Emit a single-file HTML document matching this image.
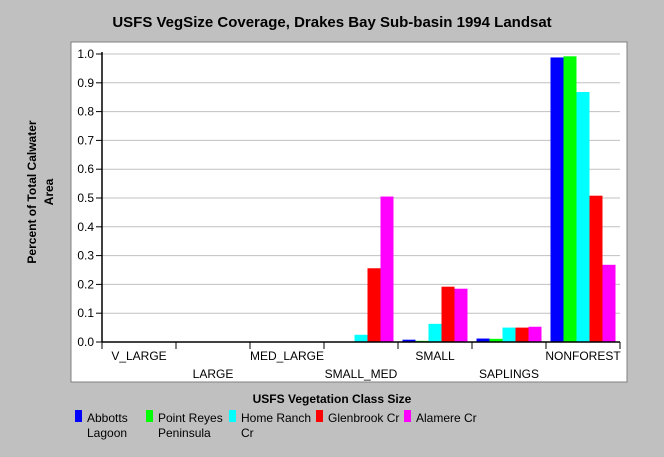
<!DOCTYPE html>
<html><head><meta charset="utf-8"><style>
body{margin:0;background:#c0c0c0;}
svg{display:block;font-family:"Liberation Sans",sans-serif;}
</style></head><body>
<svg width="664" height="457">
<rect x="0" y="0" width="664" height="457" fill="#c0c0c0"/>
<text x="332" y="27" text-anchor="middle" font-size="15" font-weight="bold">USFS VegSize Coverage, Drakes Bay Sub-basin 1994 Landsat</text>
<rect x="71" y="42" width="556" height="340" fill="#fff" stroke="#808080"/>
<text transform="translate(36,192) rotate(-90)" text-anchor="middle" font-size="12" font-weight="bold"><tspan x="0" dy="0">Percent of Total Calwater</tspan><tspan x="0" dy="17">Area</tspan></text>
<text x="332" y="403" text-anchor="middle" font-size="12" font-weight="bold">USFS Vegetation Class Size</text>
<g id="plot"></g>
<g id="legend"></g>
</svg>
<script>
const categories=["V_LARGE","LARGE","MED_LARGE","SMALL_MED","SMALL","SAPLINGS","NONFOREST"];
const seriesNames=["Abbotts Lagoon","Point Reyes Peninsula","Home Ranch Cr","Glenbrook Cr","Alamere Cr"];
const colors=["#0000ff","#00ff00","#00ffff","#ff0000","#ff00ff"];
const abbotts=[0,0,0,0,0.008,0.012,0.988];
const pointReyes=[0,0,0,0,0.004,0.011,0.992];
const homeRanch=[0,0,0,0.025,0.063,0.05,0.868];
const glenbrook=[0,0,0,0.256,0.192,0.05,0.508];
const alamere=[0,0,0,0.505,0.185,0.053,0.268];
const yTicks=[0,0.1,0.2,0.3,0.4,0.5,0.6,0.7,0.8,0.9,1.0];
const legendLines=[["Abbotts","Lagoon"],["Point Reyes","Peninsula"],["Home Ranch","Cr"],["Glenbrook Cr"],["Alamere Cr"]];
const series=[abbotts,pointReyes,homeRanch,glenbrook,alamere];
const NS="http://www.w3.org/2000/svg";
const x0=102,x1=620,y0=342,yTop=54;
const gw=(x1-x0)/categories.length;
const Y=v=>y0-v*(y0-yTop);
const plot=document.getElementById('plot');
function mk(t,a,p){const e=document.createElementNS(NS,t);for(const k in a)e.setAttribute(k,a[k]);(p||plot).appendChild(e);return e;}
yTicks.forEach((t,i)=>{
 const y=Y(t);
 if(t>0){const g=mk('line',{x1:x0,x2:x1,y1:y,y2:y,stroke:'#c0c0c0'});
 
 }
 const tk=mk('line',{x1:x0-6,x2:x0,y1:y,y2:y,stroke:'#000'});
 
 
 const l=mk('text',{x:x0-8,y:y+4,'text-anchor':'end','font-size':12});
 l.textContent=t.toFixed(1);
 
 
});
const bw=13;
categories.forEach((c,ci)=>{
 series.forEach((s,si)=>{
  const v=s[ci]; if(v<=0)return;
  const r=mk('rect',{x:x0+ci*gw+4.5+si*bw,y:Y(v),width:bw,height:y0-Y(v),fill:colors[si]});
  
  
 });
 const l=mk('text',{x:x0+(ci+0.5)*gw,y:ci%2?378:360,'text-anchor':'middle','font-size':12});
 l.textContent=c;
 
 
});
for(let i=0;i<=categories.length;i++){
 const t=mk('line',{x1:x0+i*gw,x2:x0+i*gw,y1:y0,y2:y0+7,stroke:'#000'});
 
 
}
const ax=mk('line',{x1:x0,x2:x1,y1:y0,y2:y0,stroke:'#000','stroke-width':1.5});


const ay=mk('line',{x1:x0,x2:x0,y1:yTop-2,y2:y0,stroke:'#000','stroke-width':1.5});


const lg=document.getElementById('legend');
const lx=[75,146,229,316,404];
seriesNames.forEach((n,i)=>{
 const g=mk('g',{},lg);
 
 
 mk('rect',{x:lx[i],y:410,width:7,height:12,fill:colors[i]},g);
 legendLines[i].forEach((ln,j)=>{
  const t=mk('text',{x:lx[i]+12,y:422+j*15,'font-size':12},g);
  t.textContent=ln;
 });
});
</script>
</body></html>
